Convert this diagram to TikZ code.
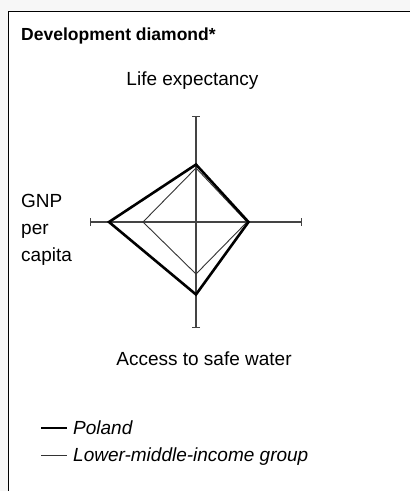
\documentclass[tikz,border=0pt]{standalone}
\usepackage{fontspec}
\setmainfont{Liberation Sans}
\usetikzlibrary{arrows.meta}
\definecolor{outerbg}{HTML}{F7F7F7}
\definecolor{axisgray}{HTML}{444444}
\definecolor{thingray}{HTML}{333333}
\begin{document}
\begin{tikzpicture}[x=1pt,y=-1pt,
  lbl/.style={inner sep=0pt,font=\fontsize{19}{27}\selectfont},
  ttl/.style={inner sep=0pt,font=\fontsize{17.5}{21}\selectfont\bfseries},
  leg/.style={inner sep=0pt,font=\fontsize{19}{27}\selectfont\itshape},
  axisline/.style={draw=axisgray,line width=1.2pt,{Bar[width=8pt]}-{Bar[width=8pt]}},
  polandline/.style={draw=black,line width=2.6pt,line join=miter},
  groupline/.style={draw=thingray,line width=0.9pt},
  frameline/.style={draw=black,line width=1.4pt}]
\useasboundingbox (0,0) rectangle (410,491);
\fill[outerbg] (0,0) rectangle (410,491);
\fill[white] (8.5,11.5) rectangle (411,492);
\draw[frameline] (8.5,492) -- (8.5,11.5) -- (411,11.5);
% axes
\coordinate (c) at (196,222);
\coordinate (at) at (196,116);
\coordinate (ab) at (196,328);
\coordinate (al) at (90,222);
\coordinate (ar) at (302,222);
\draw[axisline] (at) -- (ab);
\draw[axisline] (al) -- (ar);
% lower-middle-income group
\coordinate (gt) at (196,168);
\coordinate (gr) at (247,222);
\coordinate (gb) at (196,274);
\coordinate (gl) at (143,222);
\draw[groupline] (gt) -- (gr) -- (gb) -- (gl) -- cycle;
% Poland
\coordinate (pt) at (196,164.5);
\coordinate (pr) at (248.5,222);
\coordinate (pb) at (196,294.5);
\coordinate (pl) at (109,222);
\draw[polandline] (pt) -- (pr) -- (pb) -- (pl) -- cycle;
% texts
\node[ttl,anchor=base west] (title) at (21,40) {Development diamond*};
\node[lbl,anchor=base] (life) at (192.5,85) {Life expectancy};
\node[lbl,anchor=base] (water) at (204,365) {Access to safe water};
\node[lbl,anchor=base west] (gnp1) at (21,207) {GNP};
\node[lbl,anchor=base west] (gnp2) at (21,234) {per};
\node[lbl,anchor=base west] (gnp3) at (21,261) {capita};
% legend
\coordinate (l1a) at (41,428);
\coordinate (l1b) at (67,428);
\coordinate (l2a) at (41,455);
\coordinate (l2b) at (67,455);
\draw[polandline,line width=2.4pt] (l1a) -- (l1b);
\draw[groupline] (l2a) -- (l2b);
\node[leg,anchor=base west] (legp) at (73,434) {Poland};
\node[leg,anchor=base west] (legg) at (73,461) {Lower-middle-income group};
\end{tikzpicture}
\end{document}
